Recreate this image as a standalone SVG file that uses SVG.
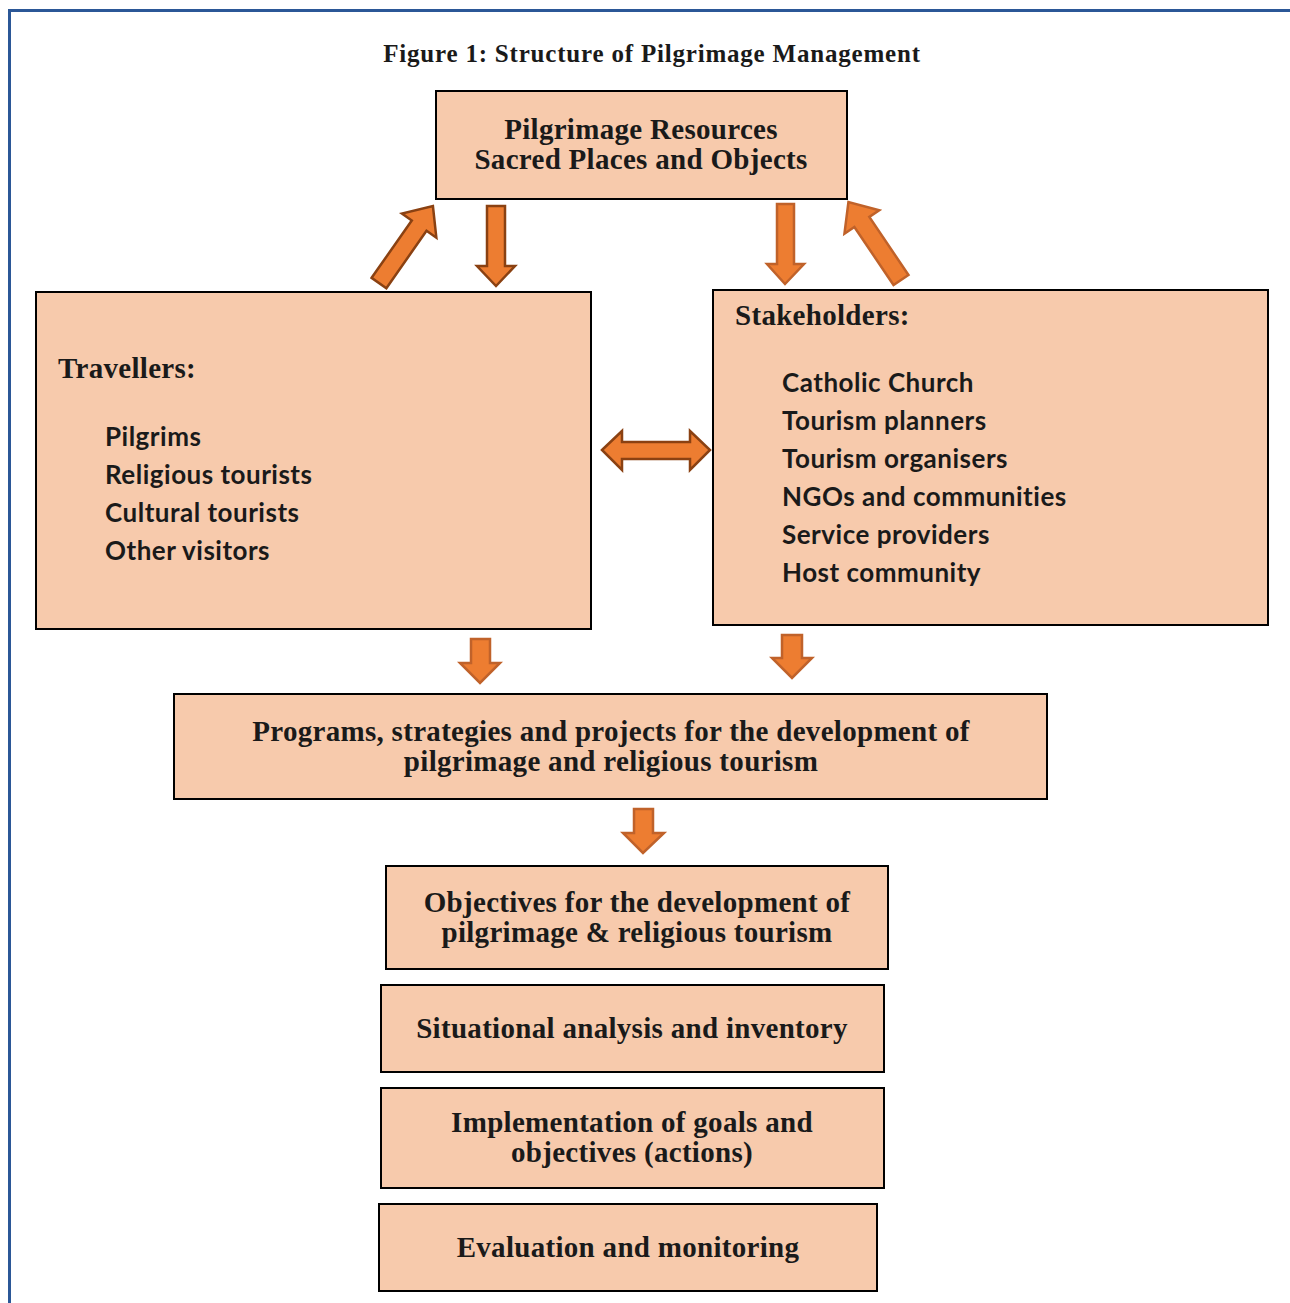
<svg xmlns="http://www.w3.org/2000/svg" width="1290" height="1303" viewBox="0 0 1290 1303">
<style>
.box{fill:#f7caac;stroke:#000;stroke-width:2}
.arD{fill:#ed7d31;stroke:#8a4112;stroke-width:2.5;stroke-linejoin:miter}
.arL{fill:#ed7d31;stroke:#c0622a;stroke-width:2.5;stroke-linejoin:miter}
.ser{font-family:"Liberation Serif","Times New Roman",serif;font-weight:bold;fill:#1a1a1a}
.san{font-family:Lato,"Open Sans",sans-serif;font-weight:bold;fill:#1a1a1a;font-size:26px;letter-spacing:0.5px}
.h{font-size:29px;letter-spacing:0.3px}
</style>
<rect width="1290" height="1303" fill="#fff"/>
<g id="frame" fill="none" stroke="#2b5797" stroke-width="3">
<path d="M9.5,1303 V10.5 H1290"/>
</g>
<text id="title" class="ser" x="652" y="62" font-size="25" letter-spacing="0.8" text-anchor="middle">Figure 1: Structure of Pilgrimage Management</text>
<g id="resources">
<rect class="box" x="436" y="91" width="411" height="108"/>
<text class="ser h" x="641" y="139" text-anchor="middle">Pilgrimage Resources</text>
<text class="ser h" x="641" y="169" text-anchor="middle">Sacred Places and Objects</text>
</g>
<g id="travellers">
<rect class="box" x="36" y="292" width="555" height="337"/>
<text class="ser h" x="58" y="378">Travellers:</text>
<text class="san" x="105" y="446">Pilgrims</text>
<text class="san" x="105" y="484">Religious tourists</text>
<text class="san" x="105" y="522">Cultural tourists</text>
<text class="san" x="105" y="560">Other visitors</text>
</g>
<g id="stakeholders">
<rect class="box" x="713" y="290" width="555" height="335"/>
<text class="ser h" x="735" y="325">Stakeholders:</text>
<text class="san" x="782" y="392">Catholic Church</text>
<text class="san" x="782" y="430">Tourism planners</text>
<text class="san" x="782" y="468">Tourism organisers</text>
<text class="san" x="782" y="506">NGOs and communities</text>
<text class="san" x="782" y="544">Service providers</text>
<text class="san" x="782" y="582">Host community</text>
</g>
<g id="programs">
<rect class="box" x="174" y="694" width="873" height="105"/>
<text class="ser h" x="611" y="741" text-anchor="middle">Programs, strategies and projects for the development of</text>
<text class="ser h" x="611" y="771" text-anchor="middle">pilgrimage and religious tourism</text>
</g>
<g id="objectives">
<rect class="box" x="386" y="866" width="502" height="103"/>
<text class="ser h" x="637" y="912" text-anchor="middle">Objectives for the development of</text>
<text class="ser h" x="637" y="942" text-anchor="middle">pilgrimage &amp; religious tourism</text>
</g>
<g id="situational">
<rect class="box" x="381" y="985" width="503" height="87"/>
<text class="ser h" x="632" y="1038" text-anchor="middle">Situational analysis and inventory</text>
</g>
<g id="implementation">
<rect class="box" x="381" y="1088" width="503" height="100"/>
<text class="ser h" x="632" y="1132" text-anchor="middle">Implementation of goals and</text>
<text class="ser h" x="632" y="1162" text-anchor="middle">objectives (actions)</text>
</g>
<g id="evaluation">
<rect class="box" x="379" y="1204" width="498" height="87"/>
<text class="ser h" x="628" y="1257" text-anchor="middle">Evaluation and monitoring</text>
</g>
<g id="connectors">
<path class="arD" d="M-9,0 V-70 H-21 L0,-94 L21,-70 H9 V0 Z" transform="translate(379,283) rotate(35)"/>
<path class="arD" d="M487,206 H505 V266 H515 L496,286 L477,266 H487 Z"/>
<path class="arL" d="M777,204 H794 V264 H804 L785,284 L767,264 H777 Z"/>
<path class="arL" d="M-9,0 V-70 H-21 L0,-94 L21,-70 H9 V0 Z" transform="translate(901,280) rotate(-34)"/>
<path class="arD" d="M602,450 L622,431 V442 H690 V431 L710,450 L690,470 V459 H622 V470 Z"/>
<path class="arL" d="M471,639 H490 V663 H500 L480,683 L460,663 H471 Z"/>
<path class="arL" d="M782,635 H802 V658 H812 L792,678 L772,658 H782 Z"/>
<path class="arL" d="M634,809 H653 V833 H664 L643,853 L623,833 H634 Z"/>
</g>
</svg>
